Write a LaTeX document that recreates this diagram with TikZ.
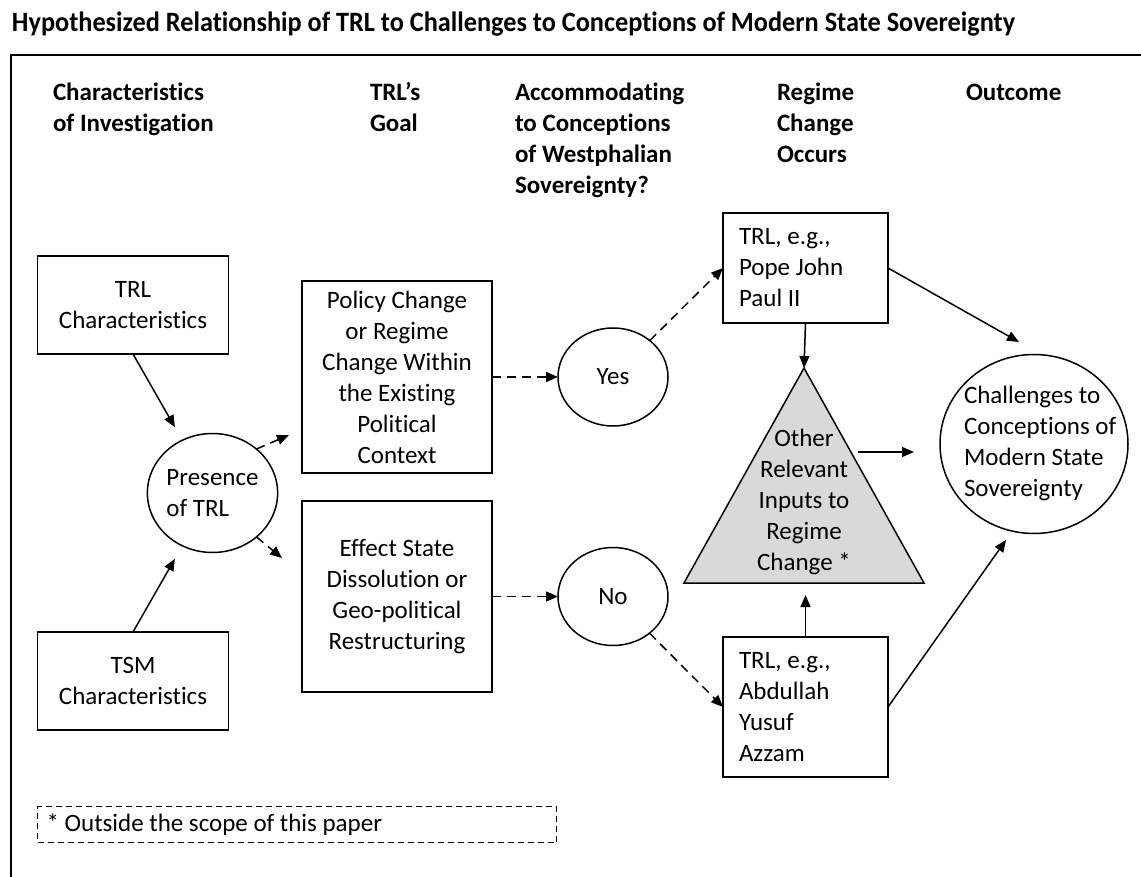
\documentclass[tikz,border=0pt]{standalone}
\usepackage{fontspec}
\usepackage{graphicx}
\setmainfont{Carlito}[Ligatures={NoCommon,NoContextual}]
\usetikzlibrary{arrows.meta,shapes.geometric}
\definecolor{trifill}{RGB}{217,217,217}
\begin{document}
\begin{tikzpicture}[x=1pt,y=-1pt,
  every node/.style={inner sep=0pt, outer sep=0pt},
  txt/.style={font=\fontsize{25}{31}\selectfont},
  hdr/.style={font=\bfseries\fontsize{25}{31}\selectfont, align=left, anchor=north west},
  box/.style={draw, line width=1.5pt, txt, align=center},
  lbox/.style={draw, line width=1.5pt, txt, align=flush left},
  oval/.style={draw, ellipse, line width=1.5pt, txt},
  arr/.style={line width=1.5pt, -{Triangle[length=12pt,width=10pt]}},
  darr/.style={arr, dash pattern=on 9pt off 6pt},
]
\useasboundingbox (0,0) rectangle (1141,877);
% title
\node[anchor=base west, font=\bfseries\fontsize{28}{32}\selectfont] (title) at (12,31.5)
  {\resizebox{1003pt}{\height}{Hypothesized Relationship of TRL to Challenges to Conceptions of Modern State Sovereignty}};
% frame
\draw[line width=2pt] (11,880) -- (11,55) -- (1145,55);
% headers
\node[hdr] (h1) at (53,79.3) {\strut Characteristics\\of Investigation};
\node[hdr] (h2) at (370,79.3) {\strut TRL’s\\Goal};
\node[hdr] (h3) at (515,79.3) {\strut Accommodating\\to Conceptions\\of Westphalian\\Sovereignty?};
\node[hdr] (h4) at (777,79.3) {\strut Regime\\Change\\Occurs};
\node[hdr] (h5) at (966,79.3) {\strut Outcome};
% left column
\node[box, minimum width=191pt, minimum height=98pt] (trl) at (133,305) {TRL\\Characteristics};
\node[box, minimum width=191pt, minimum height=98pt] (tsm) at (133,681) {TSM\\Characteristics};
\node[oval, minimum width=126pt, minimum height=119pt, align=left] (presence) at (212.5,493) {Presence\\of TRL};
% goals
\node[box, minimum width=190pt, minimum height=192pt] (policy) at (397,377)
  {Policy Change\\or Regime\\Change Within\\the Existing\\Political\\Context};
\node[box, minimum width=190pt, minimum height=191pt] (effect) at (397,596.5)
  {Effect State\\Dissolution or\\Geo-political\\Restructuring};
% yes / no
\node[oval, minimum width=110pt, minimum height=98pt] (yes) at (613,377) {Yes};
\node[oval, minimum width=110pt, minimum height=98pt] (no) at (613,596.5) {No};
% regime change
\node[lbox, text width=133pt, minimum width=165pt, minimum height=110pt] (pope) at (805.5,268)
  {TRL, e.g.,\\Pope John\\Paul II};
\node[lbox, text width=133pt, minimum width=165pt, minimum height=140pt] (azzam) at (805.5,707)
  {TRL, e.g.,\\Abdullah\\Yusuf\\Azzam};
\draw[line width=1.5pt, fill=trifill] (804,368) -- (924,583) -- (684,583) -- cycle;
\coordinate (apex) at (804,368);
\coordinate (tribase) at (805.5,595);
\coordinate (tright) at (858,452);
\node[txt, align=center] (tri) at (804,502) {Other\\Relevant\\Inputs to\\Regime\\Change *};
% outcome
\node[draw, ellipse, line width=1.5pt, minimum width=188pt, minimum height=179pt] (chal) at (1034,444) {};
\node[txt, align=left, anchor=west] (chaltxt) at (964,443.5)
  {Challenges to\\Conceptions of\\Modern State\\Sovereignty};
% footnote
\node[draw, line width=1.2pt, dash pattern=on 6pt off 4pt, minimum width=519pt, minimum height=36pt,
  txt, text width=501pt, align=flush left] (note) at (297,824.5) {* Outside the scope of this paper};
% free ends
\coordinate (g1) at (289,435);
\coordinate (g2) at (282,558);
\coordinate (c1) at (1019,342);
\coordinate (c2) at (1006,540);
\coordinate (c3) at (914,452);
% connectors
\draw[arr, shorten >=15pt] (trl.south) -- (presence);
\draw[arr, shorten >=15pt] (tsm.north) -- (presence);
\draw[darr] (presence.45) -- (g1);
\draw[darr] (presence.-45) -- (g2);
\draw[darr] (policy.east |- yes) -- (yes.west);
\draw[darr] (effect.east |- no) -- (no.west);
\draw[darr] (yes) -- (pope.west);
\draw[darr] (no) -- (azzam.west);
\draw[arr] (pope.south) -- (apex);
\draw[arr] (azzam.north) -- (tribase);
\draw[arr] (pope.east) -- (c1);
\draw[arr] (azzam.east) -- (c2);
\draw[arr] (tright) -- (c3);
\end{tikzpicture}
\end{document}
